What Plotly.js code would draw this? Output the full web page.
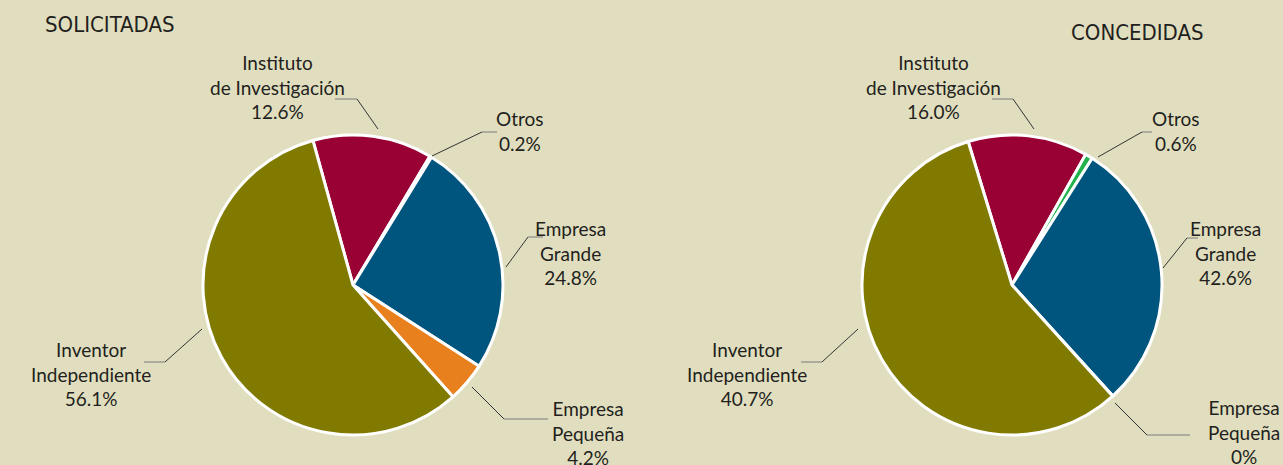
<!DOCTYPE html>
<html>
<head>
<meta charset="utf-8">
<script src="https://cdn.plot.ly/plotly-3.0.1.min.js"></script>
<style>
  html, body { margin: 0; padding: 0; background: #e1debf; }
  #chart { width: 1283px; height: 465px; }
</style>
</head>
<body>
<div id="chart"></div>
<script>
// ---- data ----
const categories = ["Instituto de Investigación", "Otros", "Empresa Grande", "Empresa Pequeña", "Inventor Independiente"];
const sliceColors = ["#990033", "#21b24b", "#00557f", "#e8801e", "#807b00"];

// SOLICITADAS (percent shares, as printed)
const solicitadasValues = [12.6, 0.2, 24.8, 4.2, 56.1];
const solicitadasLabels = ["Instituto<br>de Investigación<br>12.6%", "Otros<br>0.2%", "Empresa<br>Grande<br>24.8%", "Empresa<br>Pequeña<br>4.2%", "Inventor<br>Independiente<br>56.1%"];

// CONCEDIDAS: slice sizes as drawn in the picture, and the percentages as printed
const concedidasValues = [12.9, 0.8, 29.3, 0, 57.0];
const concedidasLabels = ["Instituto<br>de Investigación<br>16.0%", "Otros<br>0.6%", "Empresa<br>Grande<br>42.6%", "Empresa<br>Pequeña<br>0%", "Inventor<br>Independiente<br>40.7%"];

// ---- layout helpers (pixel -> paper) ----
const W = 1283, H = 465;
const px = x => x / W;
const py = y => 1 - y / H;

const TEXT = "#231f20";
const FONT = "Lato, 'Open Sans', sans-serif";
const TFONT = "'Liberation Sans Narrow', 'DejaVu Sans Condensed', sans-serif";

function pieTrace(values, domainX, rotation) {
  return {
    type: "pie",
    labels: categories,
    values: values,
    sort: false,
    direction: "clockwise",
    rotation: rotation,
    textinfo: "none",
    hoverinfo: "label+percent",
    showlegend: false,
    marker: { colors: sliceColors, line: { color: "#ffffff", width: 3 } },
    domain: { x: domainX, y: [py(435), py(135)] }
  };
}

// label placement: [centerX, middleY] per category, for each pie
const leftLabelPos  = [[277, 87], [520, 131], [570, 253], [588, 433], [91, 374]];
const rightLabelPos = [[933, 87], [1176, 131], [1225, 253], [1244, 432], [747, 374]];

// leader lines: [pieX, pieY, elbowX, elbowY, endX]
const leftLeaders  = [[378, 129, 357, 99, 335], [432, 156, 482, 132, 497], [506, 267, 528, 237, 543], [472, 387, 504, 419, 548], [202, 329, 165, 362, 144]];
const rightLeaders = [[1034, 129, 1013, 99, 992], [1098, 157, 1142, 132, 1152], [1163, 268, 1187, 238, 1198], [1115, 403, 1147, 435, 1190], [858, 329, 822, 362, 801]];

const annotations = [];
const shapes = [];

function addLabels(labels, pos, leaders) {
  labels.forEach((t, i) => {
    annotations.push({
      xref: "paper", yref: "paper",
      x: px(pos[i][0]), y: py(pos[i][1]),
      xanchor: "center", yanchor: "middle",
      text: t, showarrow: false, align: "center",
      font: { family: FONT, size: 19, color: TEXT }
    });
    const L = leaders[i];
    shapes.push({ type: "line", xref: "paper", yref: "paper",
      x0: px(L[0]), y0: py(L[1]), x1: px(L[2]), y1: py(L[3]),
      line: { color: "#333333", width: 1 } });
    shapes.push({ type: "line", xref: "paper", yref: "paper",
      x0: px(L[2]), y0: py(L[3]), x1: px(L[4]), y1: py(L[3]),
      line: { color: "#7a7a7a", width: 1 } });
  });
}
addLabels(solicitadasLabels, leftLabelPos, leftLeaders);
addLabels(concedidasLabels, rightLabelPos, rightLeaders);

annotations.push({ xref: "paper", yref: "paper", x: px(43), y: py(24), xanchor: "left", yanchor: "middle",
  text: "SOLICITADAS", showarrow: false, font: { family: TFONT, size: 22, color: TEXT } });
annotations.push({ xref: "paper", yref: "paper", x: px(1206), y: py(33), xanchor: "right", yanchor: "middle",
  text: "CONCEDIDAS", showarrow: false, font: { family: TFONT, size: 22, color: TEXT } });

const data = [
  pieTrace(solicitadasValues, [px(203), px(503)], -15.5),
  pieTrace(concedidasValues, [px(862), px(1162)], -17)
];

const layout = {
  width: W, height: H,
  margin: { l: 0, r: 0, t: 0, b: 0 },
  paper_bgcolor: "#e1debf",
  plot_bgcolor: "#e1debf",
  annotations: annotations,
  shapes: shapes,
  font: { family: FONT, color: TEXT }
};

Plotly.newPlot("chart", data, layout, { displayModeBar: false, staticPlot: true });
</script>
</body>
</html>
